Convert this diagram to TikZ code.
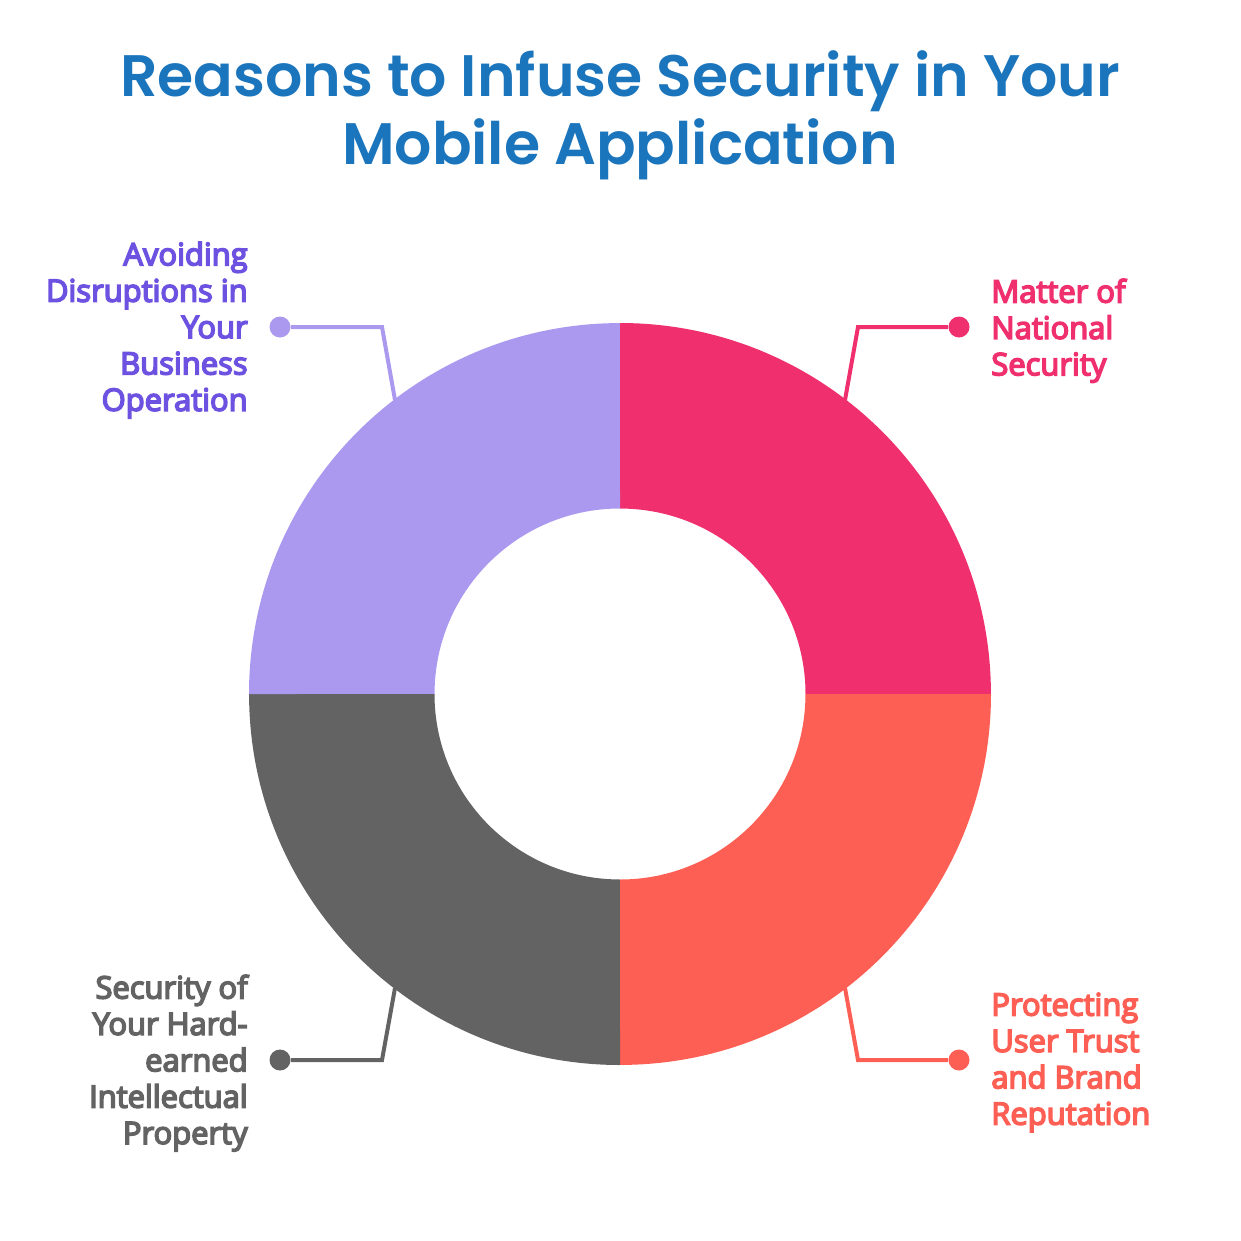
\documentclass[tikz,border=0pt]{standalone}
\usepackage{fontspec}
\setmainfont{Open Sans}[BoldFont={Open Sans},BoldFeatures={FakeBold=5}]
\newfontfamily\titlefont{Poppins}[BoldFont={Poppins SemiBold}]
\definecolor{titleblue}{HTML}{1B75BC}
\definecolor{natpink}{HTML}{EF2F6E}
\definecolor{trustred}{HTML}{FD5F55}
\definecolor{propgray}{HTML}{636363}
\definecolor{bizlilac}{HTML}{AA99EF}
\definecolor{biztext}{HTML}{6D51E0}
\begin{document}
\begin{tikzpicture}[x=0.02cm, y=-0.02cm,
  label/.style={inner sep=0pt, font=\fontsize{17.6}{20.7}\selectfont\bfseries},
  rlabel/.style={label, align=left, anchor=north west},
  llabel/.style={label, align=right, anchor=north east},
  heading/.style={inner sep=0pt, align=center, text=titleblue, font=\titlefont\fontsize{33.3}{38.7}\selectfont\bfseries},
  dot/.style={circle, fill, inner sep=0pt, minimum size=0.42cm},
  lead/.style={line width=0.08cm}]
\useasboundingbox (0,0) rectangle (1241,1241);

\node (title) at (620,115) [heading] {Reasons to Infuse Security in Your\\Mobile Application};

% ring
\fill[natpink] (620,323) arc[start angle=90, end angle=0, radius=7.42cm] -- (805.5,694) arc[start angle=0, end angle=90, radius=3.71cm] -- cycle;
\fill[trustred] (991,694) arc[start angle=0, end angle=-90, radius=7.42cm] -- (620,879.5) arc[start angle=-90, end angle=0, radius=3.71cm] -- cycle;
\fill[propgray] (620,1065) arc[start angle=-90, end angle=-180, radius=7.42cm] -- (434.5,694) arc[start angle=180, end angle=270, radius=3.71cm] -- cycle;
\fill[bizlilac] (249,694) arc[start angle=180, end angle=90, radius=7.42cm] -- (620,508.5) arc[start angle=90, end angle=180, radius=3.71cm] -- cycle;

\coordinate (natring) at (845,400);
\coordinate (natbend) at (858,327);
\coordinate (trustring) at (845,988);
\coordinate (trustbend) at (858,1060);
\coordinate (propring) at (395,988);
\coordinate (propbend) at (382,1060);
\coordinate (bizring) at (395,400);
\coordinate (bizbend) at (382,327);

\node (natdot) at (959,327) [dot, natpink] {};
\node (trustdot) at (959,1060) [dot, trustred] {};
\node (propdot) at (280,1060) [dot, propgray] {};
\node (bizdot) at (280,327) [dot, bizlilac] {};

\draw[lead, natpink] (natring) -- (natbend) -- (natdot);
\draw[lead, trustred] (trustring) -- (trustbend) -- (trustdot);
\draw[lead, propgray] (propring) -- (propbend) -- (propdot);
\draw[lead, bizlilac] (bizring) -- (bizbend) -- (bizdot);

\node (natlabel) at (991,278.5) [rlabel, text=natpink] {Matter of\\National\\Security};
\node (trustlabel) at (991,992.5) [rlabel, text=trustred] {Protecting\\User Trust\\and Brand\\Reputation};
\node (proplabel) at (248,974.5) [llabel, text=propgray] {Security of\\Your Hard-\\earned\\Intellectual\\Property};
\node (bizlabel) at (248,241.5) [llabel, text=biztext] {Avoiding\\Disruptions in\\Your\\Business\\Operation};
\end{tikzpicture}
\end{document}
